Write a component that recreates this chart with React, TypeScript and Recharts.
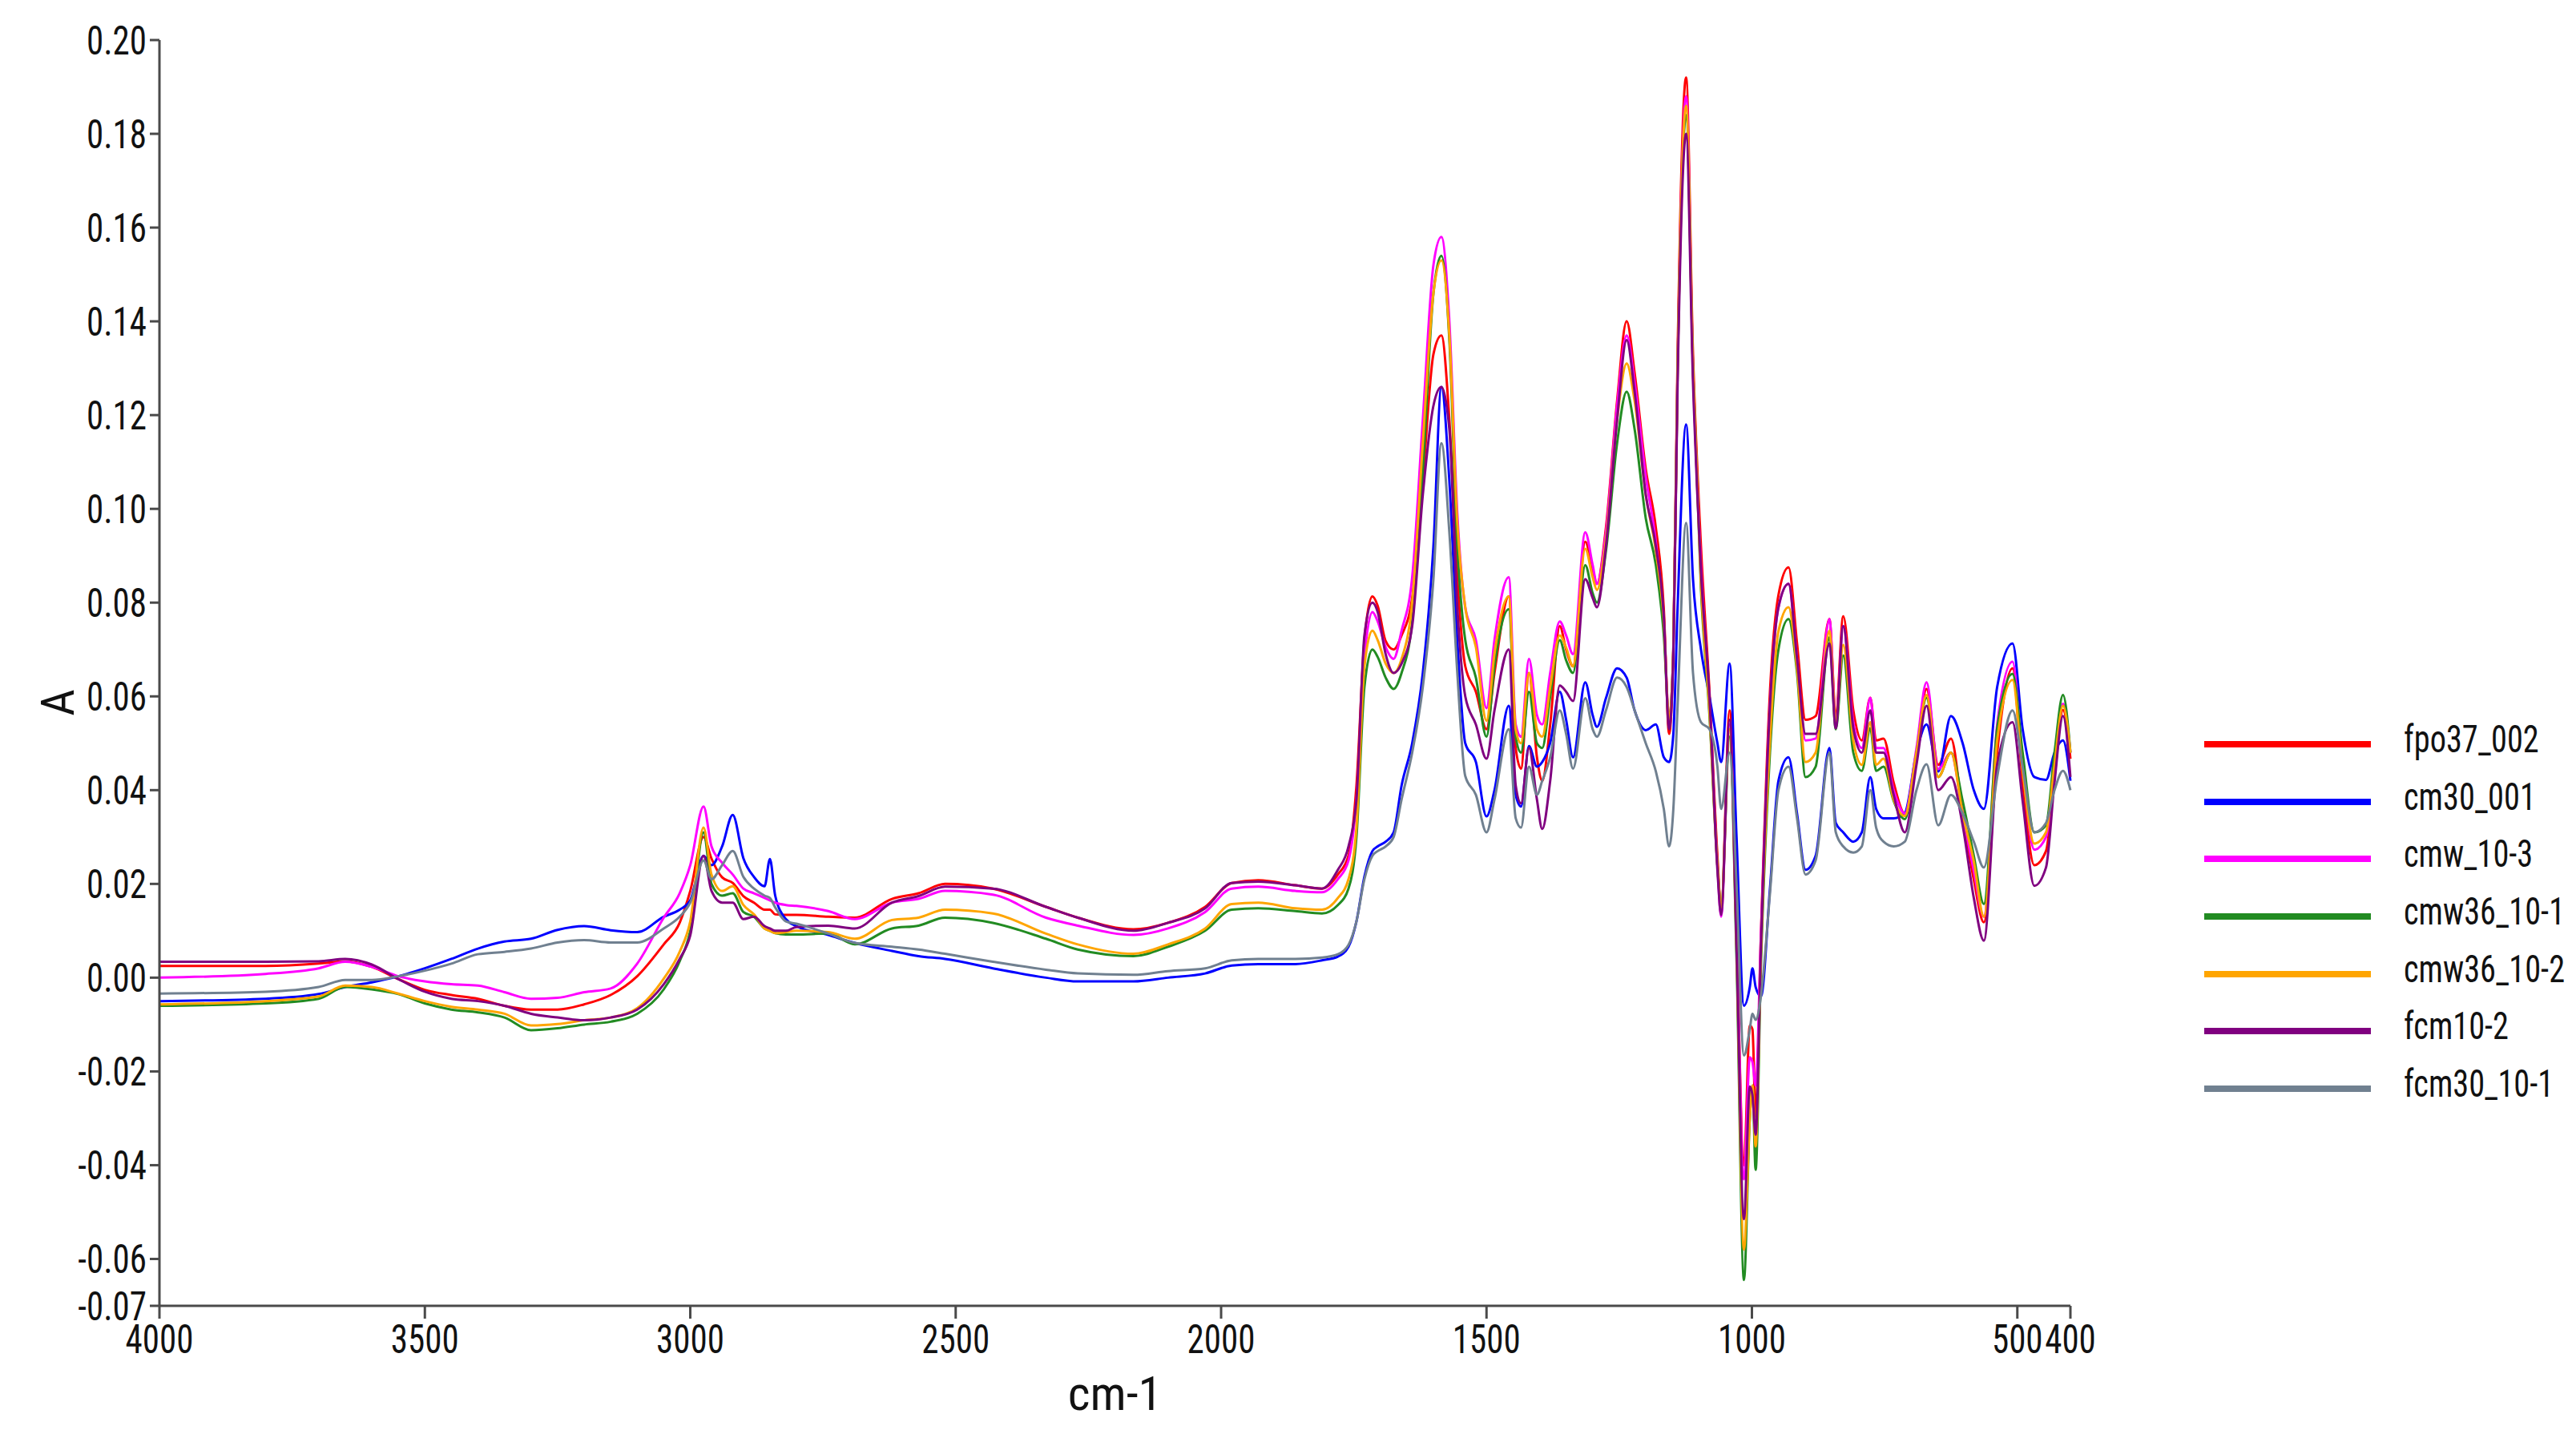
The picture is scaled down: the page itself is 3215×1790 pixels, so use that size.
import { LineChart, Line, XAxis, YAxis, Legend } from "recharts";

const FONT = "'Liberation Sans Narrow', 'Arial Narrow', 'Roboto Condensed', 'Liberation Sans', sans-serif";

// wavenumber grid, cm-1 (descending)
const wavenumbers = [
  4000, 3800, 3700, 3650, 3600, 3550, 3500, 3450, 3400, 3350,
  3300, 3250, 3200, 3150, 3100, 3050, 3020, 3000, 2975, 2960,
  2940, 2920, 2900, 2880, 2860, 2850, 2840, 2820, 2800, 2740,
  2690, 2620, 2570, 2520, 2430, 2330, 2270, 2165, 2100, 2030,
  1980, 1930, 1860, 1810, 1780, 1760, 1745, 1730, 1715, 1705,
  1690, 1675, 1660, 1640, 1620, 1600, 1585, 1570, 1555, 1540,
  1520, 1500, 1485, 1458, 1445, 1435, 1420, 1405, 1395, 1380,
  1362, 1350, 1337, 1314, 1300, 1292, 1275, 1254, 1236, 1221,
  1200, 1181, 1166, 1156, 1148, 1140, 1124, 1111, 1096, 1080,
  1065, 1058, 1042, 1029, 1015, 1004, 999, 993, 983, 966,
  950, 931, 915, 899, 880, 854, 842, 828, 809, 793,
  777, 766, 752, 733, 712, 690, 671, 649, 625, 603,
  582, 563, 538, 509, 490, 468, 446, 430, 414, 400,
];

const fpo37_002 = [
  0.0025, 0.0025, 0.003, 0.0035, 0.0023, -0.0003, -0.0026, -0.0037, -0.0045, -0.006,
  -0.0068, -0.0068, -0.0057, -0.0037, 0.0003, 0.0071, 0.0117, 0.0185, 0.030, 0.0254,
  0.0214, 0.0202, 0.0174, 0.016, 0.0145, 0.0145, 0.0135, 0.0134, 0.0134, 0.013,
  0.0128, 0.0168, 0.018, 0.020, 0.019, 0.0151, 0.0128, 0.0103, 0.0117, 0.0151,
  0.0202, 0.0208, 0.0197, 0.019, 0.022, 0.026, 0.041, 0.072, 0.0813, 0.0793,
  0.0718, 0.070, 0.073, 0.081, 0.106, 0.133, 0.137, 0.119, 0.0854, 0.0664,
  0.061, 0.053, 0.065, 0.0813, 0.049, 0.0446, 0.065, 0.047, 0.042, 0.054,
  0.075, 0.070, 0.0664, 0.093, 0.087, 0.084, 0.096, 0.123, 0.140, 0.129,
  0.1085, 0.096, 0.0786, 0.052, 0.070, 0.133, 0.192, 0.133, 0.092, 0.061,
  0.026, 0.0144, 0.057, 0.009, -0.040, -0.0102, -0.011, -0.0296, 0.0092, 0.061,
  0.0816, 0.0875, 0.0713, 0.055, 0.0558, 0.0765, 0.0558, 0.0771, 0.057, 0.0506,
  0.0597, 0.0506, 0.051, 0.0416, 0.035, 0.048, 0.0616, 0.0454, 0.051, 0.035,
  0.0209, 0.0118, 0.048, 0.066, 0.0416, 0.024, 0.027, 0.0428, 0.0571, 0.0467,
];

const cm30_001 = [
  -0.005, -0.0045, -0.0035, -0.002, -0.001, 0.0003, 0.002, 0.004, 0.0062, 0.0077,
  0.0083, 0.0102, 0.011, 0.0101, 0.0097, 0.013, 0.0145, 0.0165, 0.026, 0.024,
  0.028, 0.0347, 0.0255, 0.0215, 0.0195, 0.0253, 0.0175, 0.0125, 0.011, 0.0091,
  0.0074, 0.0057, 0.0046, 0.004, 0.002, 0.0, -0.0008, -0.0008, 0.0, 0.0009,
  0.0026, 0.0029, 0.0029, 0.0037, 0.0045, 0.0066, 0.012, 0.0216, 0.027, 0.028,
  0.029, 0.031, 0.041, 0.050, 0.065, 0.092, 0.126, 0.106, 0.072, 0.050,
  0.046, 0.0344, 0.040, 0.058, 0.039, 0.0365, 0.0494, 0.045, 0.046, 0.0501,
  0.061, 0.055, 0.047, 0.063, 0.056, 0.0535, 0.0596, 0.066, 0.064, 0.057,
  0.0528, 0.054, 0.047, 0.046, 0.052, 0.079, 0.118, 0.085, 0.070, 0.060,
  0.050, 0.046, 0.067, 0.030, -0.006, -0.002, 0.002, -0.002, -0.004, 0.019,
  0.042, 0.047, 0.035, 0.023, 0.026, 0.049, 0.033, 0.031, 0.029, 0.031,
  0.0428, 0.036, 0.034, 0.034, 0.0351, 0.048, 0.054, 0.044, 0.0558, 0.050,
  0.040, 0.036, 0.062, 0.0713, 0.053, 0.0428, 0.0422, 0.048, 0.0506, 0.042,
];

const cmw_10_3 = [
  0.0, 0.0008, 0.002, 0.0034, 0.0023, 0.0003, -0.0008, -0.0014, -0.0017, -0.0031,
  -0.0045, -0.0043, -0.0031, -0.0023, 0.003, 0.0128, 0.018, 0.024, 0.0365, 0.028,
  0.0245, 0.022, 0.019, 0.018, 0.017, 0.0165, 0.016, 0.0155, 0.0153, 0.0142,
  0.0125, 0.016, 0.0168, 0.0185, 0.0177, 0.0128, 0.0111, 0.0091, 0.0105, 0.014,
  0.019, 0.0194, 0.0185, 0.0182, 0.021, 0.025, 0.038, 0.068, 0.078, 0.076,
  0.0705, 0.068, 0.074, 0.0854, 0.119, 0.152, 0.158, 0.140, 0.099, 0.079,
  0.072, 0.0575, 0.072, 0.0854, 0.054, 0.0514, 0.068, 0.056, 0.054, 0.065,
  0.076, 0.073, 0.069, 0.095, 0.088, 0.084, 0.095, 0.122, 0.137, 0.127,
  0.107, 0.093, 0.076, 0.055, 0.070, 0.130, 0.188, 0.130, 0.088, 0.059,
  0.024, 0.013, 0.054, 0.009, -0.043, -0.017, -0.018, -0.023, 0.0092, 0.058,
  0.079, 0.084, 0.068, 0.0506, 0.051, 0.0765, 0.0545, 0.075, 0.0545, 0.049,
  0.0597, 0.049, 0.049, 0.040, 0.035, 0.049, 0.063, 0.0445, 0.048, 0.035,
  0.0228, 0.013, 0.054, 0.0674, 0.045, 0.0273, 0.030, 0.045, 0.0584, 0.048,
];

const cmw36_10_1 = [
  -0.006, -0.0055, -0.0045, -0.002, -0.0025, -0.0035, -0.0055, -0.0068, -0.0074, -0.0085,
  -0.0112, -0.0108, -0.010, -0.0094, -0.0077, -0.0025, 0.0035, 0.010, 0.031, 0.020,
  0.0175, 0.018, 0.014, 0.013, 0.0105, 0.010, 0.0095, 0.0092, 0.0092, 0.0094,
  0.0071, 0.0105, 0.0111, 0.0128, 0.0117, 0.0083, 0.006, 0.0046, 0.0066, 0.010,
  0.0145, 0.0148, 0.0142, 0.0137, 0.0155, 0.019, 0.030, 0.062, 0.070, 0.0684,
  0.064, 0.0616, 0.065, 0.0759, 0.108, 0.146, 0.154, 0.136, 0.092, 0.072,
  0.064, 0.0514, 0.0664, 0.0786, 0.0514, 0.048, 0.061, 0.050, 0.049, 0.060,
  0.072, 0.0677, 0.065, 0.088, 0.082, 0.080, 0.091, 0.114, 0.125, 0.117,
  0.098, 0.088, 0.073, 0.055, 0.070, 0.130, 0.184, 0.130, 0.083, 0.056,
  0.024, 0.015, 0.0514, 0.004, -0.0645, -0.030, -0.023, -0.041, 0.0028, 0.048,
  0.070, 0.0765, 0.065, 0.0428, 0.045, 0.0726, 0.053, 0.0687, 0.048, 0.0441,
  0.0532, 0.0441, 0.045, 0.0377, 0.0338, 0.048, 0.0597, 0.0428, 0.048, 0.0377,
  0.026, 0.0157, 0.0532, 0.0648, 0.048, 0.031, 0.0325, 0.048, 0.0603, 0.048,
];

const cmw36_10_2 = [
  -0.0057, -0.005, -0.004, -0.0017, -0.002, -0.0034, -0.005, -0.0062, -0.0068, -0.0077,
  -0.0102, -0.0099, -0.0091, -0.0085, -0.0065, -0.0002, 0.0055, 0.012, 0.032, 0.022,
  0.0185, 0.0195, 0.0155, 0.0135, 0.0105, 0.010, 0.0095, 0.0097, 0.010, 0.0097,
  0.0083, 0.0123, 0.0128, 0.0145, 0.0137, 0.0094, 0.0071, 0.0051, 0.0071, 0.0105,
  0.0157, 0.016, 0.0148, 0.0145, 0.017, 0.021, 0.032, 0.0664, 0.074, 0.072,
  0.067, 0.065, 0.068, 0.080, 0.114, 0.146, 0.153, 0.137, 0.097, 0.079,
  0.0705, 0.0548, 0.0691, 0.0813, 0.053, 0.050, 0.065, 0.053, 0.0514, 0.062,
  0.073, 0.0704, 0.0664, 0.0915, 0.0854, 0.0827, 0.0935, 0.119, 0.131, 0.123,
  0.103, 0.091, 0.076, 0.055, 0.070, 0.130, 0.186, 0.130, 0.0842, 0.057,
  0.024, 0.015, 0.053, 0.0066, -0.058, -0.030, -0.023, -0.036, 0.0054, 0.0506,
  0.0739, 0.079, 0.066, 0.046, 0.048, 0.074, 0.0545, 0.071, 0.0506, 0.0454,
  0.0545, 0.0454, 0.0467, 0.038, 0.0345, 0.048, 0.0603, 0.0428, 0.048, 0.035,
  0.0248, 0.013, 0.0506, 0.0635, 0.0441, 0.0286, 0.031, 0.0454, 0.058, 0.048,
];

const fcm10_2 = [
  0.0034, 0.0034, 0.0035, 0.004, 0.0028, -0.0003, -0.003, -0.0045, -0.005, -0.006,
  -0.0077, -0.0085, -0.0091, -0.0085, -0.0068, -0.0014, 0.004, 0.009, 0.026, 0.0185,
  0.016, 0.016, 0.0125, 0.013, 0.011, 0.0105, 0.010, 0.010, 0.0108, 0.0111,
  0.0105, 0.016, 0.0174, 0.0194, 0.019, 0.0151, 0.0128, 0.010, 0.0117, 0.0148,
  0.0202, 0.0205, 0.0197, 0.019, 0.023, 0.028, 0.038, 0.073, 0.080, 0.078,
  0.069, 0.065, 0.067, 0.075, 0.103, 0.122, 0.126, 0.117, 0.079, 0.060,
  0.054, 0.0467, 0.057, 0.070, 0.041, 0.0372, 0.049, 0.038, 0.0317, 0.042,
  0.0623, 0.061, 0.059, 0.085, 0.081, 0.079, 0.092, 0.119, 0.136, 0.125,
  0.103, 0.092, 0.077, 0.053, 0.069, 0.127, 0.180, 0.127, 0.0868, 0.060,
  0.023, 0.0134, 0.055, 0.0066, -0.0515, -0.0232, -0.025, -0.0335, 0.0066, 0.058,
  0.079, 0.084, 0.068, 0.052, 0.052, 0.0713, 0.0532, 0.075, 0.0532, 0.048,
  0.057, 0.048, 0.048, 0.039, 0.031, 0.0454, 0.058, 0.040, 0.0428, 0.0325,
  0.017, 0.0079, 0.0454, 0.0545, 0.0377, 0.0196, 0.0235, 0.0416, 0.0558, 0.0428,
];

const fcm30_10_1 = [
  -0.0034, -0.003, -0.002, -0.0005, -0.0005, 0.0003, 0.0015, 0.003, 0.005, 0.0055,
  0.0062, 0.0075, 0.008, 0.0075, 0.0075, 0.0105, 0.013, 0.016, 0.025, 0.021,
  0.024, 0.027, 0.0215, 0.019, 0.0175, 0.017, 0.015, 0.012, 0.0115, 0.0094,
  0.0074, 0.0066, 0.006, 0.0051, 0.0034, 0.0017, 0.0009, 0.0006, 0.0014, 0.002,
  0.0037, 0.004, 0.004, 0.0043, 0.005, 0.007, 0.012, 0.021, 0.026, 0.027,
  0.028, 0.030, 0.038, 0.048, 0.062, 0.085, 0.114, 0.095, 0.065, 0.043,
  0.039, 0.031, 0.038, 0.053, 0.034, 0.032, 0.045, 0.039, 0.042, 0.047,
  0.057, 0.052, 0.0446, 0.0596, 0.053, 0.0514, 0.057, 0.064, 0.062, 0.057,
  0.050, 0.044, 0.036, 0.028, 0.036, 0.058, 0.097, 0.065, 0.0545, 0.053,
  0.045, 0.036, 0.048, 0.020, -0.0166, -0.011, -0.0077, -0.009, -0.004, 0.018,
  0.040, 0.045, 0.034, 0.022, 0.025, 0.048, 0.031, 0.028, 0.0267, 0.028,
  0.040, 0.032, 0.029, 0.028, 0.029, 0.040, 0.0455, 0.0325, 0.039, 0.035,
  0.029, 0.0235, 0.0428, 0.057, 0.045, 0.031, 0.033, 0.040, 0.0441, 0.040,
];

const seriesNames = ["fpo37_002", "cm30_001", "cmw_10-3", "cmw36_10-1", "cmw36_10-2", "fcm10-2", "fcm30_10-1"];
const seriesValues = [fpo37_002, cm30_001, cmw_10_3, cmw36_10_1, cmw36_10_2, fcm10_2, fcm30_10_1];
const seriesColors = ["#ff0000", "#0000ff", "#ff00ff", "#228b22", "#ffa500", "#800080", "#708090"];

const xTicks = [4000, 3500, 3000, 2500, 2000, 1500, 1000, 500, 400];
const yTicks = [0.2, 0.18, 0.16, 0.14, 0.12, 0.1, 0.08, 0.06, 0.04, 0.02, 0, -0.02, -0.04, -0.06, -0.07];

const rows = wavenumbers.map((wn, i) => {
  const row: Record<string, number> = { wn };
  seriesValues.forEach((s, k) => {
    row[`s${k}`] = s[i];
  });
  return row;
});

const AXIS_COLOR = "#4a4a4a";
const TICK_FONT = 50;
const SQUEEZE = 0.86; // tick labels in the original are set in a condensed face

function XTick(props: any) {
  const { x, y, payload } = props;
  return (
    <text
      transform={`translate(${x} ${y}) scale(${SQUEEZE} 1)`}
      textAnchor="middle"
      dy="0.71em"
      fontSize={TICK_FONT}
      fontFamily={FONT}
      fill="#111"
    >
      {payload.value}
    </text>
  );
}

function YTick(props: any) {
  const { x, y, payload } = props;
  return (
    <text
      transform={`translate(${x} ${y}) scale(${SQUEEZE} 1)`}
      textAnchor="end"
      dy="0.355em"
      fontSize={TICK_FONT}
      fontFamily={FONT}
      fill="#111"
    >
      {Number(payload.value).toFixed(2)}
    </text>
  );
}

function renderLegend() {
  return (
    <div style={{ fontFamily: FONT }}>
      {seriesNames.map((name, i) => (
        <div key={name} style={{ display: "flex", alignItems: "center", height: 71.7, whiteSpace: "nowrap" }}>
          <div style={{ width: 208, height: 8, background: seriesColors[i], flex: "none" }} />
          <span
            style={{
              display: "inline-block",
              marginLeft: 41,
              fontSize: 48,
              color: "#111",
              lineHeight: 1,
              marginTop: -12,
              transform: "scaleX(0.84)",
              transformOrigin: "left center",
            }}
          >
            {name}
          </span>
        </div>
      ))}
    </div>
  );
}

function renderYTitle(props: any) {
  const vb = props.viewBox || { x: 69, y: 50, width: 130, height: 1580 };
  const cx = vb.x + 3;
  const cy = vb.y + vb.height / 2 + 37;
  return (
    <text
      x={cx}
      y={cy}
      transform={`rotate(-90, ${cx}, ${cy})`}
      textAnchor="middle"
      dominantBaseline="central"
      fontSize={58}
      fontFamily={FONT}
      fill="#111"
    >
      A
    </text>
  );
}

function renderXTitle(props: any) {
  const vb = props.viewBox || { x: 199, y: 1630, width: 2385, height: 60 };
  const cx = vb.x + vb.width / 2;
  const cy = vb.y + 130;
  return (
    <text x={cx} y={cy} textAnchor="middle" fontSize={60} fontFamily={FONT} fill="#111">
      cm-1
    </text>
  );
}

export default function App() {
  return (
    <div style={{ position: "absolute", left: 0, top: 0, width: 3215, height: 1790, background: "#fff" }}>
      <LineChart width={3215} height={1790} data={rows} margin={{ top: 50, right: 631, bottom: 100, left: 69 }}>
        <XAxis
          dataKey="wn"
          type="number"
          domain={[400, 4000]}
          reversed
          ticks={xTicks}
          interval={0}
          height={60}
          tickSize={16}
          tickMargin={7}
          stroke={AXIS_COLOR}
          strokeWidth={3}
          tick={<XTick />}
          label={renderXTitle}
        />
        <YAxis
          type="number"
          domain={[-0.07, 0.2]}
          ticks={yTicks}
          interval={0}
          width={130}
          tickSize={12}
          tickMargin={4}
          stroke={AXIS_COLOR}
          strokeWidth={3}
          tick={<YTick />}
          label={renderYTitle}
        />
        <Legend
          layout="vertical"
          align="center"
          verticalAlign="middle"
          content={renderLegend}
          wrapperStyle={{ left: 2751, top: 893, width: 464 }}
        />
        {seriesNames.map((name, k) => (
          <Line
            key={name}
            name={name}
            type="monotone"
            dataKey={`s${k}`}
            stroke={seriesColors[k]}
            strokeWidth={3}
            dot={false}
            activeDot={false}
            isAnimationActive={false}
          />
        ))}
      </LineChart>
    </div>
  );
}
